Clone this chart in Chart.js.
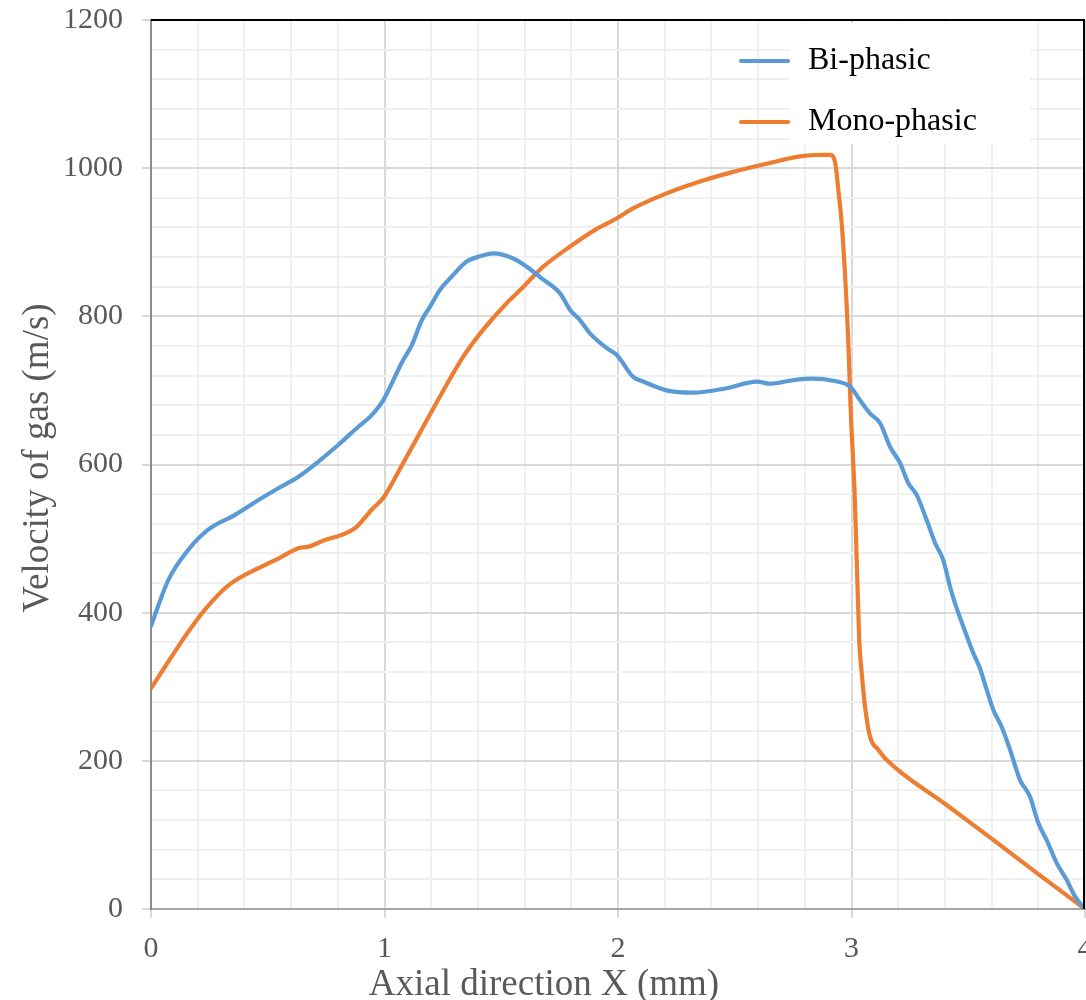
<!DOCTYPE html>
<html>
<head>
<meta charset="utf-8">
<title>Velocity of gas along the axial direction</title>
<script src="https://cdn.jsdelivr.net/npm/chart.js@4/dist/chart.umd.min.js"></script>
<style>
  html, body { margin: 0; padding: 0; background: #ffffff; }
  #wrap { width: 1086px; height: 1000px; }
</style>
</head>
<body>
<div id="wrap"><canvas id="chart" width="1086" height="1000"></canvas></div>
<script>
// Axial position (mm) and gas velocity (m/s) for each case
const biX = [0, 0.074, 0.16, 0.245, 0.36, 0.46, 0.545, 0.63, 0.717, 0.80, 0.888, 0.94, 0.995, 1.038, 1.08, 1.117, 1.16, 1.195, 1.238, 1.28, 1.352, 1.409, 1.466, 1.552, 1.609, 1.666, 1.752, 1.794, 1.837, 1.88, 1.952, 1.994, 2.066, 2.108, 2.208, 2.322, 2.465, 2.594, 2.651, 2.751, 2.836, 2.922, 2.994, 3.036, 3.079, 3.122, 3.165, 3.208, 3.243, 3.279, 3.322, 3.358, 3.393, 3.422, 3.443, 3.479, 3.522, 3.55, 3.579, 3.607, 3.643, 3.679, 3.722, 3.764, 3.8, 3.836, 3.879, 3.922, 3.957, 4];
const biV = [382, 444, 485, 512, 532, 552, 568, 583, 604, 626, 651, 665, 687, 714, 741, 761, 795, 813, 836, 851, 874, 881, 885, 878, 867, 853, 831, 809, 795, 777, 757, 748, 718, 712, 700, 697, 703, 712, 709, 714, 716, 713, 705, 687, 669, 656, 624, 602, 575, 559, 525, 494, 471, 435, 413, 381, 345, 325, 296, 269, 246, 215, 174, 152, 116, 93, 62, 39, 17, 0];

const monoX = [0, 0.06, 0.146, 0.231, 0.317, 0.374, 0.46, 0.545, 0.631, 0.674, 0.745, 0.817, 0.874, 0.945, 0.995, 1.08, 1.166, 1.252, 1.338, 1.423, 1.509, 1.595, 1.68, 1.794, 1.909, 1.994, 2.066, 2.208, 2.351, 2.494, 2.637, 2.779, 2.865, 2.908, 2.929, 2.944, 2.958, 2.972, 2.986, 2.996, 3.015, 3.033, 3.044, 3.058, 3.079, 3.115, 3.151, 3.4, 3.6, 3.8, 4];
const monoV = [298, 327, 368, 404, 433, 446, 460, 473, 487, 489, 498, 505, 514, 539, 555, 602, 651, 700, 746, 782, 813, 840, 867, 894, 918, 932, 946, 966, 982, 995, 1006, 1016, 1018, 1018, 1009, 970, 926, 858, 768, 678, 548, 363, 318, 273, 233, 215, 201, 142, 95, 47, 0];

const seriesNames = ['Bi-phasic', 'Mono-phasic'];
const seriesColors = ['#5b9bd5', '#ed7d31'];

// Axis ranges and tick spacing
const xMin = 0, xMax = 4, xMinorStep = 0.2, xMajorStep = 1;
const yMin = 0, yMax = 1200, yMinorStep = 40, yMajorStep = 200;

const xTitle = 'Axial direction X (mm)';
const yTitle = 'Velocity of gas (m/s)';

const FONT = "'Liberation Serif', 'Times New Roman', serif";
const TEXT_GREY = '#595959';
const LINE_W = 4.2;

function toPoints(xs, vs) { return xs.map((x, i) => ({ x: x, y: vs[i] })); }
function isMajor(v, step) { const r = v / step; return Math.abs(r - Math.round(r)) < 1e-6; }

// Frame, axis titles and the boxed legend in the upper right
const decorations = {
  id: 'decorations',
  afterDatasetsDraw(chart) {
    const { ctx, chartArea } = chart;
    const { left, top, right, bottom } = chartArea;
    ctx.save();
    // top and right frame lines
    ctx.strokeStyle = '#000000';
    ctx.lineWidth = 2;
    ctx.beginPath();
    ctx.moveTo(left, top);
    ctx.lineTo(right - 1, top);
    ctx.lineTo(right - 1, bottom);
    ctx.stroke();

    // legend
    const ds = chart.data.datasets;
    ctx.fillStyle = '#ffffff';
    ctx.fillRect(790, 23, 240, 121);
    const rows = [61, 122];
    ds.forEach((d, i) => {
      ctx.strokeStyle = d.borderColor;
      ctx.lineWidth = LINE_W;
      ctx.lineCap = 'round';
      ctx.beginPath();
      ctx.moveTo(741, rows[i]);
      ctx.lineTo(788, rows[i]);
      ctx.stroke();
      ctx.fillStyle = '#000000';
      ctx.font = '32px ' + FONT;
      ctx.textAlign = 'left';
      ctx.textBaseline = 'alphabetic';
      ctx.fillText(d.label, 808, rows[i] + 8);
    });

    // axis titles
    ctx.fillStyle = TEXT_GREY;
    ctx.font = '37px ' + FONT;
    ctx.textAlign = 'center';
    ctx.textBaseline = 'alphabetic';
    ctx.fillText(xTitle, 544, 995);
    ctx.translate(48, 458);
    ctx.rotate(-Math.PI / 2);
    ctx.fillText(yTitle, 0, 0);
    ctx.restore();
  }
};

const gridColor = (step) => (c) => (c.tick && isMajor(c.tick.value, step)) ? '#d9d9d9' : '#f0f0f0';
const tickMarkColor = (step) => (c) => (c.tick && isMajor(c.tick.value, step)) ? '#d9d9d9' : 'rgba(0,0,0,0)';

new Chart(document.getElementById('chart'), {
  type: 'line',
  data: {
    datasets: [
      { label: seriesNames[0], data: toPoints(biX, biV), borderColor: seriesColors[0], backgroundColor: seriesColors[0], borderWidth: LINE_W },
      { label: seriesNames[1], data: toPoints(monoX, monoV), borderColor: seriesColors[1], backgroundColor: seriesColors[1], borderWidth: LINE_W }
    ]
  },
  options: {
    responsive: false,
    animation: false,
    devicePixelRatio: 1,
    layout: { padding: { top: 20, right: 1, left: 0, bottom: 0 } },
    elements: {
      point: { radius: 0, hoverRadius: 0 },
      line: { borderWidth: LINE_W, cubicInterpolationMode: 'monotone', fill: false, borderCapStyle: 'round', borderJoinStyle: 'round' }
    },
    plugins: { legend: { display: false }, tooltip: { enabled: false } },
    scales: {
      x: {
        type: 'linear',
        min: xMin, max: xMax,
        afterFit(s) { s.height = 91; s.paddingLeft = 0; s.paddingRight = 0; },
        border: { display: true, color: '#a6a6a6', width: 2 },
        grid: { color: gridColor(xMajorStep), lineWidth: 2, drawTicks: true, tickLength: 9, tickColor: tickMarkColor(xMajorStep), tickWidth: 2 },
        ticks: {
          stepSize: xMinorStep, autoSkip: false, maxRotation: 0, padding: 13,
          color: TEXT_GREY, font: { family: FONT, size: 30 },
          callback: (v) => isMajor(v, xMajorStep) ? String(Math.round(v)) : ''
        }
      },
      y: {
        type: 'linear',
        min: yMin, max: yMax,
        afterFit(s) { s.width = 151; s.paddingTop = 0; s.paddingBottom = 0; },
        border: { display: true, color: '#8c8c8c', width: 2 },
        grid: { color: gridColor(yMajorStep), lineWidth: 2, drawTicks: true, tickLength: 9, tickColor: tickMarkColor(yMajorStep), tickWidth: 2 },
        ticks: {
          stepSize: yMinorStep, autoSkip: false, padding: 19,
          color: TEXT_GREY, font: { family: FONT, size: 30 },
          callback: (v) => isMajor(v, yMajorStep) ? String(Math.round(v)) : ''
        }
      }
    }
  },
  plugins: [decorations]
});
</script>
</body>
</html>
